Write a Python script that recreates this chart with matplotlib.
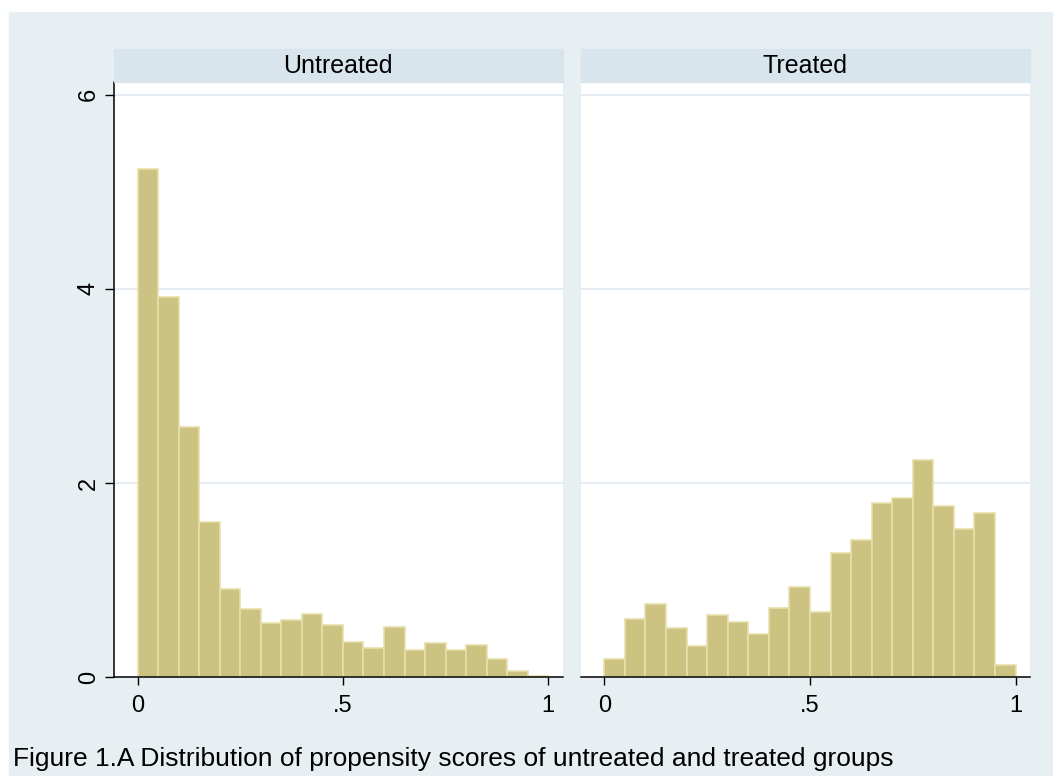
import numpy as np
import matplotlib.pyplot as plt
from matplotlib.patches import Rectangle

plt.rcParams['font.family'] = ['Liberation Sans', 'DejaVu Sans']

# histogram densities, 20 bins of width .05 on [0, 1]
bin_width = 0.05
bin_starts = np.round(np.arange(0, 1, bin_width), 2)

untreated = [5.24, 3.92, 2.58, 1.60, 0.91, 0.70, 0.56, 0.59, 0.65, 0.54,
             0.36, 0.30, 0.52, 0.28, 0.35, 0.28, 0.33, 0.19, 0.06, 0.01]
treated = [0.19, 0.60, 0.76, 0.51, 0.32, 0.64, 0.57, 0.45, 0.71, 0.93,
           0.67, 1.28, 1.41, 1.79, 1.85, 2.24, 1.76, 1.53, 1.69, 0.13]

panel_titles = ['Untreated', 'Treated']
yticks = [0, 2, 4, 6]
xticks = [0, 0.5, 1]
xticklabels = ['0', '.5', '1']
caption = 'Figure 1.A Distribution of propensity scores of untreated and treated groups'

bg = '#e8eff2'
strip_col = '#d9e5ec'
grid_col = '#e4ecf1'
bar_fill = '#ccc382'
bar_edge = '#e6dfaa'

W, H = 1053, 776
fig = plt.figure(figsize=(W / 100, H / 100), dpi=100)
fig.patch.set_facecolor('white')
fig.patches.append(Rectangle((9 / W, 0), 1 - 9 / W, 1 - 12 / H,
                             transform=fig.transFigure, color=bg, zorder=-5))


def box(x0, y0, x1, y1):
    # pixel box -> figure fraction
    return [x0 / W, 1 - y1 / H, (x1 - x0) / W, (y1 - y0) / H]


panels = [(114, 562.5, untreated), (580.5, 1030, treated)]
top, bottom = 82.3, 677.3
strip_top = 49

for i, (x0, x1, vals) in enumerate(panels):
    ax = fig.add_axes(box(x0, top, x1, bottom))
    ax.set_facecolor('white')
    ax.bar(bin_starts, vals, width=bin_width, align='edge',
           color=bar_fill, edgecolor=bar_edge, linewidth=1.2, zorder=2)
    for y in yticks[1:]:
        ax.axhline(y, color=grid_col, lw=1.4, zorder=1)
    ax.set_xlim(-0.058, 1.035)
    ax.set_ylim(0, 6.128)
    for s in ['top', 'right']:
        ax.spines[s].set_visible(False)
    ax.spines['bottom'].set_linewidth(1.1)
    ax.set_xticks(xticks, xticklabels)
    ax.tick_params(axis='x', length=5.5, width=1, pad=7.5, labelsize=17)
    if i == 0:
        ax.spines['left'].set_linewidth(1.1)
        ax.set_yticks(yticks, [str(t) for t in yticks], rotation=90, va='center')
        ax.tick_params(axis='y', length=6.7, width=1, pad=3.5, labelsize=17)
    else:
        ax.spines['left'].set_visible(False)
        ax.set_yticks(yticks)
        ax.tick_params(axis='y', left=False, labelleft=False)

    # panel header strip
    fig.patches.append(Rectangle((x0 / W, 1 - top / H), (x1 - x0) / W,
                                 (top - strip_top) / H, transform=fig.transFigure,
                                 color=strip_col, zorder=1))
    fig.text((x0 + x1) / 2 / W, 1 - (top + strip_top) / 2 / H, panel_titles[i],
             ha='center', va='center', fontsize=18)

fig.text(13 / W, 1 - 759 / H, caption, ha='left', va='center', fontsize=19)

fig.savefig('out.png', dpi=100)
